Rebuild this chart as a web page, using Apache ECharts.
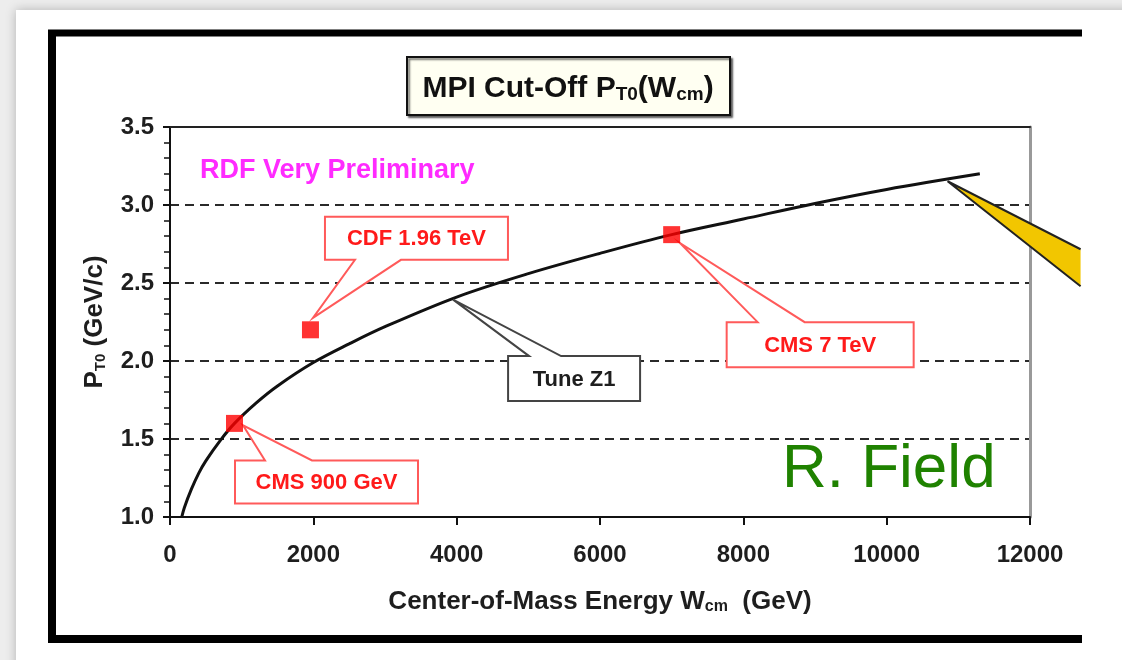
<!DOCTYPE html>
<html>
<head>
<meta charset="utf-8">
<script src="https://cdn.jsdelivr.net/npm/echarts@6/dist/echarts.min.js"></script>
<style>
  html, body { margin: 0; padding: 0; background: #fff; }
  #chart { width: 1122px; height: 660px; }
</style>
</head>
<body>
<div id="chart"></div>
<script>
// Tune Z1 curve
const curveW = [164, 200, 300, 400, 500, 700, 900, 1200, 1500, 2000, 2500, 3000, 4000, 5000, 6000, 7000, 8000, 9000, 10000, 11300];
const curvePT0 = [1.00, 1.06, 1.18, 1.28, 1.36, 1.49, 1.60, 1.73, 1.84, 1.99, 2.11, 2.22, 2.41, 2.56, 2.69, 2.81, 2.91, 3.01, 3.10, 3.20];

// measured points
const pointNames = ['CMS 900 GeV', 'CDF 1.96 TeV', 'CMS 7 TeV'];
const pointW = [900, 1960, 7000];
const pointPT0 = [1.60, 2.20, 2.81];

// where the "Tune Z1" pointer and the yellow arrow touch the curve
const tuneLabel = 'Tune Z1';
const tuneAnchor = [3950, 2.40];
const arrowAnchor = [10850, 3.165];

const xTicks = [0, 12000, 2000];   // min, max, step
const yTicks = [1.0, 3.5, 0.5];

const SANS = '"Liberation Sans", Arial, Helvetica, sans-serif';
const INK = '#1e1e1e';

const chart = echarts.init(document.getElementById('chart'));

chart.setOption({
  backgroundColor: '#ededed',
  animation: false,
  grid: { left: 170, right: 92, top: 127, bottom: 143 },
  xAxis: [
    {
      type: 'value',
      min: xTicks[0], max: xTicks[1], interval: xTicks[2],
      name: '{b|Center-of-Mass Energy W}{s|cm}{b|  (GeV)}',
      nameLocation: 'middle',
      nameGap: 66,
      nameTextStyle: {
        rich: {
          b: { fontFamily: SANS, fontWeight: 'bold', fontSize: 26, color: INK, lineHeight: 32, verticalAlign: 'bottom' },
          s: { fontFamily: SANS, fontWeight: 'bold', fontSize: 16, color: INK, lineHeight: 14, verticalAlign: 'bottom' }
        }
      },
      axisLine: { onZero: false, lineStyle: { color: '#111', width: 2 } },
      axisTick: { length: 8, lineStyle: { color: '#111', width: 2 } },
      axisLabel: {
        margin: 26, fontFamily: SANS, fontWeight: 'bold', fontSize: 24, color: INK,
        formatter: (v) => String(v)
      },
      splitLine: { show: false }
    },
    {
      type: 'value', position: 'top',
      min: xTicks[0], max: xTicks[1], interval: xTicks[2],
      axisLine: { onZero: false, lineStyle: { color: '#222', width: 2 } },
      axisTick: { show: false }, axisLabel: { show: false }, splitLine: { show: false }
    }
  ],
  yAxis: [
    {
      type: 'value',
      min: yTicks[0], max: yTicks[1], interval: yTicks[2],
      name: '{b|P}{s|T0}{b| (GeV/c)}',
      nameLocation: 'middle',
      nameGap: 62,
      nameRotate: 90,
      nameTextStyle: {
        rich: {
          b: { fontFamily: SANS, fontWeight: 'bold', fontSize: 26, color: INK, lineHeight: 32, verticalAlign: 'bottom' },
          s: { fontFamily: SANS, fontWeight: 'bold', fontSize: 15, color: INK, lineHeight: 14, verticalAlign: 'bottom' }
        }
      },
      axisLine: { onZero: false, lineStyle: { color: '#111', width: 2 } },
      axisTick: { length: 7, lineStyle: { color: '#111', width: 2 } },
      minorTick: { show: true, splitNumber: 5, length: 6, lineStyle: { color: '#111', width: 1.5 } },
      axisLabel: {
        margin: 16, fontFamily: SANS, fontWeight: 'bold', fontSize: 24, color: INK,
        formatter: (v) => v.toFixed(1)
      },
      splitLine: { show: true, lineStyle: { color: '#2a2a2a', width: 2, type: [9, 6] } }
    },
    {
      type: 'value', position: 'right',
      min: yTicks[0], max: yTicks[1], interval: yTicks[2],
      axisLine: { onZero: false, lineStyle: { color: '#999', width: 3 } },
      axisTick: { show: false }, axisLabel: { show: false }, splitLine: { show: false }
    }
  ],
  series: [
    {
      name: tuneLabel,
      type: 'line',
      data: curveW.map((w, i) => [w, curvePT0[i]]),
      smooth: 0.35,
      symbol: 'none',
      lineStyle: { color: '#111', width: 3 },
      z: 2
    },
    {
      name: 'data',
      type: 'scatter',
      data: pointW.map((w, i) => ({ name: pointNames[i], value: [w, pointPT0[i]] })),
      symbol: 'rect',
      symbolSize: 17,
      itemStyle: { color: '#ff0000' },
      z: 6
    }
  ]
});

// callout boxes, offsets in px from the point they point at
const calloutLayout = [
  { box: [0.5, 37, 183.5, 80], base: [30.5, 77.5], tip: [8.5, 2], side: 'top' },
  { box: [14.5, -113, 197.5, -70], base: [44.5, 90.5], tip: [2.5, -12], side: 'bottom' },
  { box: [55, 87.5, 242, 132.5], base: [86, 133], tip: [8.5, 8.5], side: 'top' }
];
const tuneLayout = { box: [55, 57.5, 187, 102.5], base: [76, 108], tip: [0, 1], side: 'top' };

function calloutShape(p, lay) {
  const x0 = p[0] + lay.box[0], y0 = p[1] + lay.box[1];
  const x1 = p[0] + lay.box[2], y1 = p[1] + lay.box[3];
  const b1 = p[0] + lay.base[0], b2 = p[0] + lay.base[1];
  const t = [p[0] + lay.tip[0], p[1] + lay.tip[1]];
  if (lay.side === 'top') {
    return { pts: [[x0, y0], [b1, y0], t, [b2, y0], [x1, y0], [x1, y1], [x0, y1]], c: [(x0 + x1) / 2, (y0 + y1) / 2] };
  }
  return { pts: [[x0, y0], [x1, y0], [x1, y1], [b2, y1], t, [b1, y1], [x0, y1]], c: [(x0 + x1) / 2, (y0 + y1) / 2] };
}

function callout(id, p, lay, text, stroke, color) {
  const s = calloutShape(p, lay);
  return [
    {
      id: id + '-box', type: 'polygon', z: 4,
      shape: { points: s.pts },
      style: { fill: '#fff', stroke: stroke, lineWidth: 2 }
    },
    {
      id: id + '-txt', type: 'text', z: 5,
      style: {
        x: s.c[0], y: s.c[1] + 1, text: text, align: 'center', verticalAlign: 'middle',
        font: 'bold 22px ' + SANS, fill: color
      }
    }
  ];
}

function drawDecor() {
  const toPx = (v) => chart.convertToPixel({ xAxisIndex: 0, yAxisIndex: 0 }, v);
  const g = [
    // slide page
    {
      id: 'page', type: 'rect', z: -10, silent: true,
      shape: { x: 16, y: 10, width: 1120, height: 660 },
      style: { fill: '#fff', shadowBlur: 10, shadowColor: 'rgba(0,0,0,0.25)' }
    },
    // thick slide frame
    { id: 'f-top', type: 'line', z: -5, shape: { x1: 48, y1: 33, x2: 1082, y2: 33 }, style: { stroke: '#000', lineWidth: 7 } },
    { id: 'f-left', type: 'line', z: -5, shape: { x1: 52, y1: 30, x2: 52, y2: 643 }, style: { stroke: '#000', lineWidth: 8 } },
    { id: 'f-bot', type: 'line', z: -5, shape: { x1: 48, y1: 639, x2: 1082, y2: 639 }, style: { stroke: '#000', lineWidth: 8 } },
    // title box
    {
      id: 'title-box', type: 'rect', z: 4,
      shape: { x: 407, y: 57, width: 323, height: 58 },
      style: { fill: '#fffff2', stroke: '#111', lineWidth: 2, shadowColor: 'rgba(0,0,0,0.55)', shadowBlur: 2, shadowOffsetX: 2, shadowOffsetY: 2 }
    },
    {
      id: 'title-txt', type: 'text', z: 5,
      style: {
        x: 568, y: 87, align: 'center', verticalAlign: 'middle',
        text: '{b|MPI Cut-Off P}{s|T0}{b|(W}{s|cm}{b|)}',
        rich: {
          b: { font: 'bold 30px ' + SANS, fill: '#111', lineHeight: 34, verticalAlign: 'bottom' },
          s: { font: 'bold 19px ' + SANS, fill: '#111', lineHeight: 16, verticalAlign: 'bottom' }
        }
      }
    },
    {
      id: 'rdf', type: 'text', z: 5,
      style: { x: 200, y: 171, text: 'RDF Very Preliminary', verticalAlign: 'middle', font: 'bold 27px ' + SANS, fill: '#ff2bff' }
    },
    {
      id: 'author', type: 'text', z: 5,
      style: { x: 782, y: 470, text: 'R. Field', verticalAlign: 'middle', font: '62px ' + SANS, fill: '#1f8200' }
    }
  ];

  pointW.forEach((w, i) => {
    const p = toPx([w, pointPT0[i]]);
    g.push(...callout('c' + i, p, calloutLayout[i], pointNames[i], '#ff5a5a', '#ff1a1a'));
  });

  g.push(...callout('tune', toPx(tuneAnchor), tuneLayout, tuneLabel, '#444', '#1e1e1e'));

  // yellow pointer coming in from off the slide, cut at the slide edge
  const a = toPx(arrowAnchor);
  const tip = [a[0], a[1] + 2], up = [a[0] + 133, a[1] + 70], lo = [a[0] + 133, a[1] + 107];
  g.push({
    id: 'arrow', type: 'polygon', z: 4,
    shape: { points: [tip, up, lo] },
    style: { fill: '#f2c600' }
  });
  g.push({
    id: 'arrow-edge', type: 'polyline', z: 4,
    shape: { points: [up, tip, lo] },
    style: { stroke: '#222', lineWidth: 2, fill: null }
  });

  chart.setOption({ graphic: g });
}

drawDecor();
</script>
</body>
</html>
